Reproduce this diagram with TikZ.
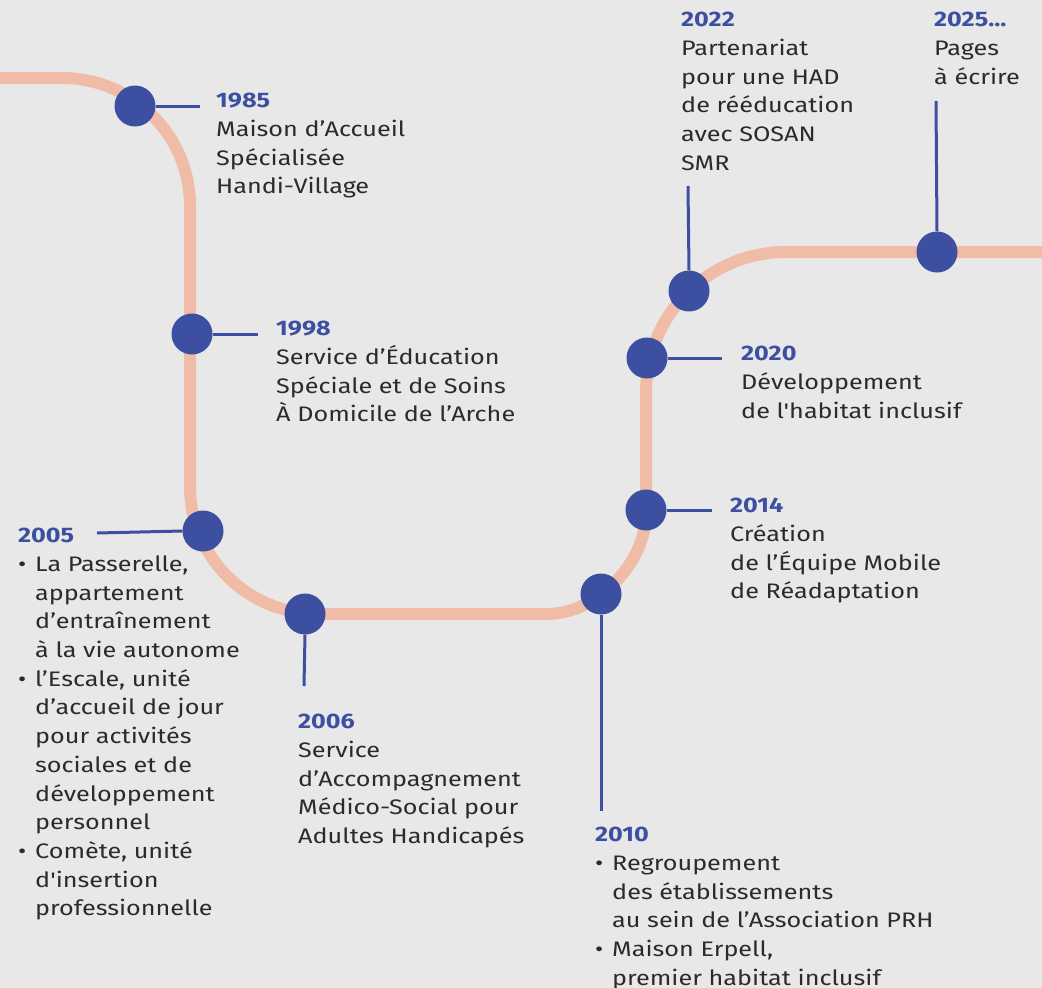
\documentclass[tikz,border=0pt]{standalone}
\usepackage{fontspec}
\newfontfamily\ff{Fira Sans}[FakeStretch=1.2]
\definecolor{bg}{HTML}{E8E8E8}
\definecolor{trk}{HTML}{F0BBA7}
\definecolor{blu}{HTML}{3D4FA1}
\definecolor{txt}{HTML}{2B2B2B}
\tikzset{
  track/.style={draw=trk, line width=12pt},
  dot/.style={circle, fill=blu, minimum size=41pt, inner sep=0pt},
  leader/.style={draw=blu, line width=3pt},
  lbl/.style={anchor=north west, inner sep=0pt, align=left, text=txt, font=\ff\fontsize{21}{28.7}\selectfont},
}
\newcommand{\yr}[1]{\textcolor{blu}{\bfseries #1}}
\newcommand{\bul}{\makebox[17pt][l]{•}}
\newcommand{\ind}{\hspace*{17pt}}
\begin{document}
\begin{tikzpicture}[x=1pt,y=-1pt]
\fill[bg] (0,0) rectangle (1042,988);
\useasboundingbox (0,0) rectangle (1042,988);
% track
\draw[track] (-10,78) -- (62,78) .. controls (132.7,78) and (190,135.3) .. (190,206)
  -- (190,486) .. controls (190,556.7) and (247.3,614) .. (318,614)
  -- (546,614) .. controls (601.2,614) and (646,558.8) .. (646,514)
  -- (646,392) .. controls (646,314.7) and (708.7,252) .. (786,252)
  -- (1052,252);
% leader end points
\coordinate (e1985) at (200,106);
\coordinate (e1998) at (258,334);
\coordinate (e2005) at (97,533);
\coordinate (e2006) at (304,686);
\coordinate (e2010) at (601,811);
\coordinate (e2014) at (712,510);
\coordinate (e2020) at (722,358);
\coordinate (e2022) at (688,186);
\coordinate (e2025) at (936,101);
% dots
\node[dot] (d1985) at (135,106) {};
\node[dot] (d1998) at (192,334) {};
\node[dot] (d2005) at (203,531) {};
\node[dot] (d2006) at (305,614) {};
\node[dot] (d2010) at (601,594) {};
\node[dot] (d2014) at (646,510) {};
\node[dot] (d2020) at (647,358) {};
\node[dot] (d2022) at (689,291) {};
\node[dot] (d2025) at (937,252) {};
% leaders
\draw[leader] (d1985.east) -- (e1985);
\draw[leader] (d1998.east) -- (e1998);
\draw[leader] (d2005.west) -- (e2005);
\draw[leader] (d2006.south) -- (e2006);
\draw[leader] (d2010.south) -- (e2010);
\draw[leader] (d2014.east) -- (e2014);
\draw[leader] (d2020.east) -- (e2020);
\draw[leader] (d2022.north) -- (e2022);
\draw[leader] (d2025.north) -- (e2025);
% labels
\node[lbl] (t1985) at (216,93) {\yr{1985}\\Maison d’Accueil\\Spécialisée\\Handi-Village};
\node[lbl] (t1998) at (276,321) {\yr{1998}\\Service d’Éducation\\Spéciale et de Soins\\À Domicile de l’Arche};
\node[lbl] (t2005) at (18,528) {\yr{2005}\\\bul La Passerelle,\\\ind appartement\\\ind d’entraînement\\\ind à la vie autonome\\\bul l’Escale, unité\\\ind d’accueil de jour\\\ind pour activités\\\ind sociales et de\\\ind développement\\\ind personnel\\\bul Comète, unité\\\ind d'insertion\\\ind professionnelle};
\node[lbl] (t2006) at (298,714) {\yr{2006}\\Service\\d’Accompagnement\\Médico-Social pour\\Adultes Handicapés};
\node[lbl] (t2010) at (595,827) {\yr{2010}\\\bul Regroupement\\\ind des établissements\\\ind au sein de l’Association PRH\\\bul Maison Erpell,\\\ind premier habitat inclusif};
\node[lbl] (t2014) at (730,498) {\yr{2014}\\Création\\de l’Équipe Mobile\\de Réadaptation};
\node[lbl] (t2020) at (741,346) {\yr{2020}\\Développement\\de l'habitat inclusif};
\node[lbl] (t2022) at (681,12) {\yr{2022}\\Partenariat\\pour une HAD\\de rééducation\\avec SOSAN\\SMR};
\node[lbl] (t2025) at (934,12) {\yr{2025...}\\Pages\\à écrire};
\end{tikzpicture}
\end{document}
